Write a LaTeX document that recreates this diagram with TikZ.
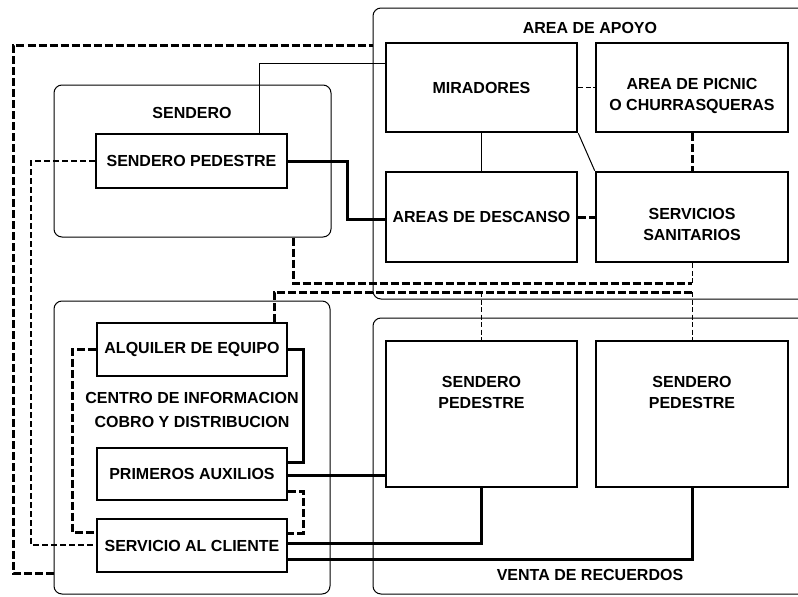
\documentclass[tikz,border=0pt]{standalone}
\usepackage{fontspec}
\setmainfont{Liberation Sans}
\begin{document}
\begin{tikzpicture}[x=1pt,y=-1pt,
  cont/.style={draw, line width=1pt, rounded corners=8pt, inner sep=0pt},
  boxn/.style={draw, line width=2.6pt, fill=white, inner sep=0pt, font=\bfseries\fontsize{16}{21}\selectfont, align=center},
  txt/.style={inner sep=0pt, font=\bfseries\fontsize{16}{21}\selectfont, align=center},
  thk/.style={line width=3pt},
  thn/.style={line width=1pt},
  dsh/.style={line width=3pt, dash pattern=on 8pt off 3pt},
  tdsh/.style={line width=1pt, dash pattern=on 5pt off 2.5pt}]
\useasboundingbox (0,0) rectangle (798,597);
\fill[white] (0,0) rectangle (798,597);
\clip (0,0) rectangle (798,597);

% containers
\node[cont, minimum width=457pt, minimum height=291pt] (apoyo) at (601.5,153.5) {};
\node[cont, minimum width=277pt, minimum height=152pt] (sendc) at (192.5,161) {};
\node[cont, minimum width=276pt, minimum height=293pt] (centc) at (192,447.5) {};
\node[cont, minimum width=457pt, minimum height=276pt] (venta) at (601.5,456) {};

% container labels
\node[txt] (lapoyo) at (590,28) {AREA DE APOYO};
\node[txt] (lsend) at (192,113) {SENDERO};
\node[txt, font=\bfseries\fontsize{16}{24}\selectfont] (lcent) at (192,410) {CENTRO DE INFORMACION\\COBRO Y DISTRIBUCION};
\node[txt] (lventa) at (590,575) {VENTA DE RECUERDOS};

% boxes
\node[boxn, minimum width=191pt, minimum height=54pt] (sps) at (191.5,161) {SENDERO PEDESTRE};
\node[boxn, minimum width=191pt, minimum height=89pt] (mir) at (481.5,87.5) {MIRADORES};
\node[boxn, minimum width=192pt, minimum height=89pt] (pic) at (692,87.5) {};
\node[txt] (pict) at (692,95.5) {AREA DE PICNIC\\O CHURRASQUERAS};
\node[boxn, minimum width=191pt, minimum height=90pt] (des) at (481.5,217) {AREAS DE DESCANSO};
\node[boxn, minimum width=192pt, minimum height=90pt] (san) at (692,217) {};
\node[txt] (sant) at (692,224) {SERVICIOS\\SANITARIOS};
\node[boxn, minimum width=190pt, minimum height=53pt] (alq) at (192,349.5) {ALQUILER DE EQUIPO};
\node[boxn, minimum width=190pt, minimum height=52pt] (pri) at (192,474) {PRIMEROS AUXILIOS};
\node[boxn, minimum width=190pt, minimum height=53pt] (cli) at (192,545.5) {SERVICIO AL CLIENTE};
\node[boxn, minimum width=191pt, minimum height=146pt] (sp1) at (481.5,414) {};
\node[txt] (sp1t) at (481.5,392.5) {SENDERO\\PEDESTRE};
\node[boxn, minimum width=192pt, minimum height=146pt] (sp2) at (692,414) {};
\node[txt] (sp2t) at (692,392.5) {SENDERO\\PEDESTRE};

% connectors
\draw[dsh] (centc.west |- 0,573) -| (13,45) -- (apoyo.west |- 0,45);
\draw[line width=1.8pt, dash pattern=on 6pt off 3pt] (sps.west) -| (31,545) -- (cli.west |- 0,545);
\draw[thn] (sps.north -| 259,0) |- (mir.west |- 0,63);
\draw[thk] (sps.east) -| (347,219) -- (des.west |- 0,219);
\draw[thn] (mir.south) -- (des.north);
\draw[tdsh] (mir.east) -- (pic.west);
\draw[thn] (mir.south east) -- (san.north west);
\draw[dsh] (pic.south) -- (san.north);
\draw[dsh] (des.east) -- (san.west);

\coordinate (j1) at (san.south |- 0,283);
\draw[dsh] (sendc.south -| 293,0) |- (j1);
\draw[tdsh] (j1) -- (san.south);

\coordinate (j2) at (sp2.north |- 0,292);
\coordinate (j3) at (sp1.north |- 0,292);
\draw[dsh] (alq.north -| 274,0) |- (j2);
\draw[tdsh] (j2) -- (sp2.north);
\draw[tdsh] (j3) -- (sp1.north);

\draw[thk] (alq.east) -| (303,462) -- (pri.east |- 0,462);
\draw[dsh] (alq.west) -| (72,532) -- (cli.west |- 0,532);
\draw[dsh] (pri.east |- 0,491) -| (303,533) -- (cli.east |- 0,533);
\draw[thk] (pri.east |- 0,475) -- (sp1.west |- 0,475);
\draw[thk] (cli.east |- 0,543) -| (sp1.south);
\draw[thk] (cli.east |- 0,559) -| (sp2.south);
\end{tikzpicture}
\end{document}
